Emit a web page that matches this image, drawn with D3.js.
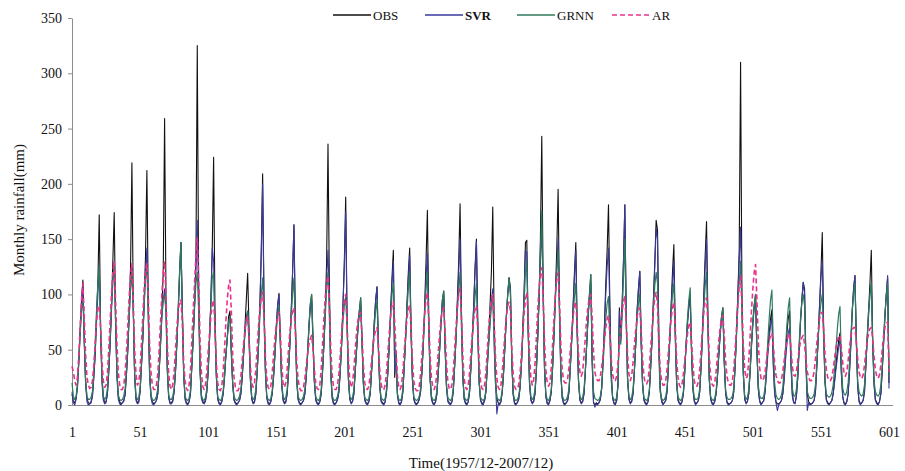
<!DOCTYPE html>
<html>
<head>
<meta charset="utf-8">
<script src="https://cdn.jsdelivr.net/npm/d3@7"></script>
<style>
  body { margin: 0; background: #fff; }
  svg { display: block; font-family: 'Liberation Serif', 'Times New Roman', serif; }
</style>
</head>
<body>
<svg id="chart" width="905" height="471"></svg>
<script>
// monthly rainfall, index 1 = 1957/12 ... 601 = 2007/12
// one line per year, each line ends at that year's peak month
const obs = [
  10,3,2,6,18,40,70,95,113,
  60,22,6,2,1,3,8,25,45,80,110,172,
  70,25,7,2,3,10,30,55,90,130,174,
  80,30,8,3,1,2,4,9,28,50,85,125,219,
  90,28,6,2,3,12,35,60,95,135,212,
  95,30,9,3,1,2,4,10,30,55,85,120,259,
  100,35,8,2,2,4,12,30,55,85,120,147,
  90,30,7,2,1,3,10,35,60,90,130,325,
  110,35,8,3,2,4,12,30,60,95,141,224,
  85,28,6,2,1,3,10,25,45,60,80,85,
  50,20,5,2,1,2,4,10,25,45,70,95,119,
  70,25,6,2,3,10,30,55,90,140,209,
  95,35,8,2,1,3,10,25,45,70,90,101,
  60,20,5,2,3,10,30,55,85,120,163,
  80,25,6,2,1,2,4,10,25,45,70,90,100,
  60,22,5,2,1,3,10,30,55,85,130,236,
  110,35,8,2,1,2,5,12,30,55,90,130,188,
  80,25,6,2,3,10,30,50,70,85,97,
  60,20,5,2,1,3,10,30,50,75,95,107,
  55,18,4,2,1,3,12,30,55,85,115,140,
  25,48,10,2,1,3,12,35,60,90,120,142,
  70,25,6,2,1,2,5,12,30,55,90,130,176,
  80,25,6,2,1,3,10,30,50,75,95,103,
  55,18,4,2,1,3,12,35,60,95,130,182,
  85,28,6,2,1,3,12,35,60,90,125,150,
  75,22,5,1,2,4,12,35,60,90,120,179,
  80,25,6,2,1,3,12,30,55,80,100,115,
  106,40,10,2,1,2,5,15,35,65,100,147,149,
  70,20,5,2,3,10,30,60,95,150,243,
  110,35,8,2,1,4,12,35,65,100,140,195,
  90,30,7,2,1,2,4,12,35,60,90,120,147,
  70,22,5,2,3,10,30,55,80,100,118,
  40,2,0,2,1,2,5,15,40,70,110,140,181,
  90,30,7,2,1,4,20,88,60,90,130,181,
  85,25,6,2,3,10,30,55,85,105,121,
  60,20,5,2,1,3,12,35,60,95,130,167,
  158,60,15,4,1,2,4,12,35,60,90,120,145,
  70,22,5,2,1,3,10,30,55,75,90,100,
  50,15,4,1,2,4,12,35,65,100,135,166,
  80,25,6,2,1,3,10,25,45,65,80,88,
  40,12,3,1,1,2,4,12,35,65,100,140,310,
  100,30,6,2,3,10,30,55,75,90,100,
  50,15,4,1,2,4,12,30,50,65,78,86,
  40,12,3,1,1,2,4,10,25,45,65,78,85,
  40,10,2,2,8,25,50,75,95,111,
  105,40,10,3,1,1,2,4,12,35,60,90,120,156,
  70,22,5,2,1,2,4,10,22,35,48,58,65,
  30,8,2,1,3,10,30,55,85,105,117,
  60,18,4,1,2,4,12,35,60,85,110,140,
  60,20,5,2,1,3,10,30,55,80,100,115,
  20
];

const svr = [
  12,2,0,5,15,38,65,90,110,
  55,18,3,0,1,2,8,25,45,75,100,125,
  65,20,4,1,2,10,30,55,85,110,130,
  75,25,5,1,0,2,3,10,28,50,80,105,125,
  85,25,4,1,2,12,35,60,90,120,142,
  80,25,6,1,0,2,4,10,30,55,80,95,105,
  85,30,6,1,1,3,12,30,55,85,115,147,
  90,28,5,1,0,3,10,35,60,90,120,167,
  100,32,6,2,1,3,12,30,60,95,142,130,
  70,25,5,1,0,3,10,25,45,60,75,80,
  45,18,4,1,0,2,4,10,25,45,65,80,85,
  60,22,5,1,2,10,30,55,90,135,200,
  90,32,6,1,0,3,10,25,45,70,90,100,
  55,18,4,1,2,10,30,55,85,120,163,
  70,22,5,1,0,2,4,10,25,45,70,88,95,
  55,20,4,1,0,3,10,30,55,85,115,140,
  95,30,6,1,0,2,5,12,30,55,90,125,175,
  75,22,5,1,3,10,30,50,68,82,90,
  55,18,4,1,0,3,10,30,50,75,95,107,
  50,16,3,1,0,3,12,30,55,85,110,130,
  30,40,8,1,0,3,12,35,60,90,115,135,
  65,22,5,1,0,2,5,12,30,55,85,115,137,
  70,22,5,1,0,3,10,30,50,75,92,100,
  50,16,3,1,0,3,12,35,60,90,120,150,
  80,25,5,1,0,3,12,35,60,90,120,148,
  70,20,4,1,0,4,12,35,55,75,95,105,
  60,20,-8,1,0,3,12,30,55,80,100,115,
  100,38,9,1,0,2,5,15,35,65,100,140,138,
  65,18,4,1,3,10,30,60,95,130,160,
  100,32,7,1,0,4,12,35,65,100,125,150,
  85,28,6,1,0,2,4,12,35,60,88,115,140,
  65,20,4,1,3,10,30,55,78,98,110,
  38,3,-2,1,0,2,5,15,40,70,100,125,142,
  85,28,6,1,0,4,18,85,58,90,130,181,
  80,22,5,1,3,10,30,55,85,105,121,
  55,18,4,1,0,3,12,35,60,95,125,160,
  150,55,12,3,0,2,4,12,35,60,88,110,130,
  65,20,4,1,0,3,10,30,55,72,88,95,
  45,14,3,0,2,4,12,35,65,95,125,150,
  75,22,5,1,0,3,10,25,45,62,78,85,
  38,10,2,0,1,2,4,12,35,65,100,130,161,
  90,28,5,1,3,10,30,52,72,88,95,
  48,14,3,0,2,4,12,28,45,60,72,80,
  35,10,2,-5,0,2,4,10,22,40,55,65,70,
  35,8,2,1,8,25,50,75,95,111,
  100,38,-5,2,0,1,2,4,12,35,60,90,115,130,
  65,20,4,1,0,2,4,10,20,32,42,52,59,
  28,7,1,0,3,10,30,55,85,105,117,
  55,16,3,0,2,4,12,35,60,80,100,110,
  55,18,4,1,0,3,10,30,55,80,100,117,
  15
];

const grnn = [
  20,8,5,8,18,40,65,85,95,
  60,22,8,5,5,7,12,30,55,85,110,125,
  70,25,8,5,7,15,35,60,90,115,125,
  75,28,9,5,4,5,8,15,32,55,80,105,120,
  85,28,8,5,7,15,38,62,90,115,125,
  80,28,9,5,4,5,8,15,32,55,80,95,100,
  85,32,9,5,5,8,15,32,58,88,120,147,
  80,28,8,5,4,6,14,35,60,88,110,120,
  85,30,9,5,4,7,15,32,60,90,115,120,
  70,26,8,5,4,6,13,27,45,60,75,80,
  50,20,8,5,4,5,8,14,28,48,65,78,85,
  60,24,8,5,7,14,32,55,80,100,115,
  80,30,9,5,4,6,13,27,45,65,82,90,
  55,20,8,5,7,14,32,55,80,100,115,
  70,25,8,5,4,5,8,14,28,48,72,92,100,
  60,22,8,5,4,6,14,32,55,80,105,120,
  80,28,9,5,4,5,8,15,32,55,75,90,98,
  70,24,8,5,7,14,32,52,70,85,97,
  55,20,7,5,4,6,13,32,50,70,85,95,
  50,18,7,5,4,6,15,32,55,80,100,110,
  60,35,10,5,4,6,15,36,60,85,105,120,
  65,24,8,5,4,5,8,15,32,55,82,105,120,
  70,24,8,5,4,6,13,32,52,75,95,103,
  52,18,7,5,4,6,15,36,60,85,105,120,
  70,24,8,5,4,6,15,36,58,80,98,110,
  62,20,7,5,4,6,14,35,55,72,90,100,
  55,20,7,5,4,6,14,32,56,80,102,115,
  100,38,11,5,4,5,8,17,36,62,92,120,130,
  70,22,8,5,7,14,32,62,100,140,176,
  100,34,10,5,4,7,15,36,62,95,120,140,
  80,28,9,5,4,5,8,15,36,58,80,98,110,
  65,22,8,5,7,14,32,56,80,100,118,
  45,12,6,5,4,5,8,16,36,58,78,92,98,
  60,22,8,5,4,7,18,70,55,80,115,150,
  75,24,8,5,7,14,32,55,78,92,100,
  55,20,7,5,4,6,14,36,60,88,108,120,
  110,42,12,6,4,5,8,15,36,58,82,100,110,
  62,22,8,5,4,6,13,32,56,78,95,106,
  50,17,7,5,5,7,15,36,62,88,108,120,
  68,24,8,5,4,6,13,28,48,66,80,88,
  42,14,7,5,5,6,8,15,36,62,90,112,130,
  85,28,9,5,7,14,32,55,75,90,100,
  50,18,8,6,6,8,16,35,58,78,95,104,
  55,20,9,6,5,6,9,16,32,52,72,88,97,
  45,15,8,8,14,30,55,78,92,100,
  90,35,12,8,6,6,7,10,18,38,60,80,92,100,
  60,22,10,8,7,8,11,18,32,50,68,82,89,
  40,15,10,9,12,20,38,62,85,100,110,
  60,22,12,9,8,10,18,38,62,85,100,110,
  58,22,12,9,8,10,18,36,60,82,98,110,
  25
];

const ar = [
  35,30,22,18,25,45,70,95,110,
  80,45,25,18,15,16,22,35,55,75,88,90,
  70,40,22,16,18,28,50,75,100,120,130,
  95,55,30,18,14,14,18,28,48,72,98,118,128,
  95,50,28,18,20,32,55,80,105,122,128,
  100,55,30,18,14,14,18,28,50,75,100,120,130,
  100,55,28,17,14,18,30,50,70,85,93,95,
  75,40,22,15,13,18,32,58,85,110,135,151,
  115,60,30,17,14,18,30,48,65,80,90,95,
  70,38,20,14,13,17,30,50,75,95,108,113,
  85,45,25,16,13,13,17,26,40,55,68,76,80,
  60,35,20,16,20,32,52,72,88,98,102,
  80,45,25,16,14,17,28,45,60,72,80,84,
  65,38,20,16,20,32,50,66,78,85,88,
  68,40,24,16,13,13,16,24,35,46,55,60,63,
  50,32,20,15,14,18,32,55,78,98,110,117,
  90,52,28,17,14,14,18,28,45,64,82,95,100,
  75,42,22,16,20,32,50,66,77,82,84,
  62,36,20,15,14,17,27,40,52,62,68,70,
  55,32,19,14,14,18,30,48,65,80,90,93,
  75,48,26,16,14,18,30,48,65,78,87,90,
  70,40,22,15,13,13,17,28,45,64,82,96,102,
  78,44,24,16,14,18,30,48,64,77,85,88,
  66,38,21,15,14,18,30,50,70,88,100,106,
  80,45,24,16,14,18,30,48,65,78,87,90,
  70,40,22,15,14,18,30,50,70,85,95,100,
  76,44,24,16,14,18,30,48,66,80,90,93,
  85,52,28,17,14,14,18,28,45,65,82,95,102,
  80,45,25,18,22,36,60,85,105,118,124,
  100,58,32,20,17,20,34,56,80,100,114,120,
  95,55,32,22,20,20,24,34,50,66,80,90,93,
  72,45,30,26,30,44,62,78,90,97,100,
  80,48,30,24,22,22,26,34,45,58,70,78,81,
  65,42,28,22,22,26,38,55,70,84,94,98,
  76,46,28,22,26,38,54,68,80,86,88,
  68,42,26,20,19,22,34,52,70,86,97,102,
  90,56,32,22,18,18,22,32,48,64,78,88,93,
  72,42,25,18,16,19,28,40,52,64,72,75,
  58,36,22,17,17,21,32,50,68,84,94,97,
  76,44,26,19,17,20,30,44,58,70,78,81,
  64,40,26,20,18,18,22,32,50,70,90,108,117,
  92,55,32,24,26,40,62,85,105,120,127,
  95,58,34,24,22,24,30,40,50,58,63,65,
  55,38,27,22,20,20,23,30,40,50,58,63,65,
  52,35,27,26,30,40,50,57,61,63,
  55,40,30,25,22,22,24,30,42,56,68,78,83,84,
  68,46,32,25,22,22,25,32,42,52,58,62,63,
  52,38,29,26,30,40,52,62,68,70,70,
  58,42,30,25,24,27,36,48,58,65,69,70,
  60,44,32,26,24,27,36,50,62,70,74,75,
  30
];

const seriesNames = ['OBS', 'SVR', 'GRNN', 'AR'];
const xTicks = [1, 51, 101, 151, 201, 251, 301, 351, 401, 451, 501, 551, 601];
const yTicks = [0, 50, 100, 150, 200, 250, 300, 350];

const width = 905;
const height = 471;
const plot = { left: 72, right: 893, top: 18, bottom: 405 };

const svg = d3.select('#chart')
    .attr('width', width)
    .attr('height', height);

svg.append('rect')
    .attr('width', width)
    .attr('height', height)
    .attr('fill', '#fff');

const x = d3.scaleLinear()
    .domain([1, 601])
    .range([plot.left, 889]);

const y = d3.scaleLinear()
    .domain([0, 350])
    .range([plot.bottom, plot.top]);

// axes
const yAxis = svg.append('g')
    .attr('transform', `translate(${plot.left},0)`)
    .call(d3.axisLeft(y).tickValues(yTicks).tickSize(4).tickPadding(6).tickSizeOuter(0));
yAxis.select('.domain').attr('stroke', '#8c8c8c');
yAxis.selectAll('.tick line').attr('stroke', '#8c8c8c');
yAxis.selectAll('text')
    .attr('font-family', "'Liberation Serif', serif")
    .attr('font-size', 14)
    .attr('fill', '#111');

const xAxis = svg.append('g')
    .attr('transform', `translate(0,${plot.bottom})`)
    .call(d3.axisBottom(x).tickValues(xTicks).tickFormat(d3.format('d')).tickSize(0).tickPadding(22));
xAxis.select('.domain').remove();
xAxis.selectAll('text')
    .attr('font-family', "'Liberation Serif', serif")
    .attr('font-size', 14)
    .attr('fill', '#111');

svg.append('line')
    .attr('x1', plot.left)
    .attr('x2', plot.right)
    .attr('y1', plot.bottom + 0.5)
    .attr('y2', plot.bottom + 0.5)
    .attr('stroke', '#8c8c8c');

// series
const styles = [
    { data: obs, color: '#111111', width: 1.1, dash: null },
    { data: svr, color: '#3a3a9c', width: 1.1, dash: null },
    { data: grnn, color: '#2f7a5c', width: 1.2, dash: null },
    { data: ar, color: '#e8338a', width: 1.6, dash: '5,3' }
];

const line = d3.line()
    .x((d, i) => x(i + 1))
    .y(d => y(d));

svg.append('g')
    .selectAll('path')
    .data(styles)
    .join('path')
    .attr('d', d => line(d.data))
    .attr('fill', 'none')
    .attr('stroke', d => d.color)
    .attr('stroke-width', d => d.width)
    .attr('stroke-dasharray', d => d.dash)
    .attr('stroke-linejoin', 'round');

// legend
const legendX = [333, 425, 517, 612];
const legend = svg.append('g')
    .selectAll('g')
    .data(styles)
    .join('g')
    .attr('transform', (d, i) => `translate(${legendX[i]},15)`);

legend.append('line')
    .attr('x1', 0)
    .attr('x2', 38)
    .attr('stroke', d => d.color)
    .attr('stroke-width', d => d.dash ? 1.6 : 1.3)
    .attr('stroke-dasharray', d => d.dash);

legend.append('text')
    .attr('x', 40)
    .attr('dy', '0.35em')
    .attr('font-size', 13)
    .attr('font-weight', (d, i) => seriesNames[i] === 'SVR' ? 'bold' : 'normal')
    .attr('fill', '#111')
    .text((d, i) => seriesNames[i]);

// axis titles
svg.append('text')
    .attr('transform', 'rotate(-90)')
    .attr('x', -210)
    .attr('y', 24)
    .attr('text-anchor', 'middle')
    .attr('font-size', 15)
    .attr('fill', '#111')
    .text('Monthly rainfall(mm)');

svg.append('text')
    .attr('x', 481)
    .attr('y', 468)
    .attr('text-anchor', 'middle')
    .attr('font-size', 15)
    .attr('fill', '#111')
    .text('Time(1957/12-2007/12)');
</script>
</body>
</html>
